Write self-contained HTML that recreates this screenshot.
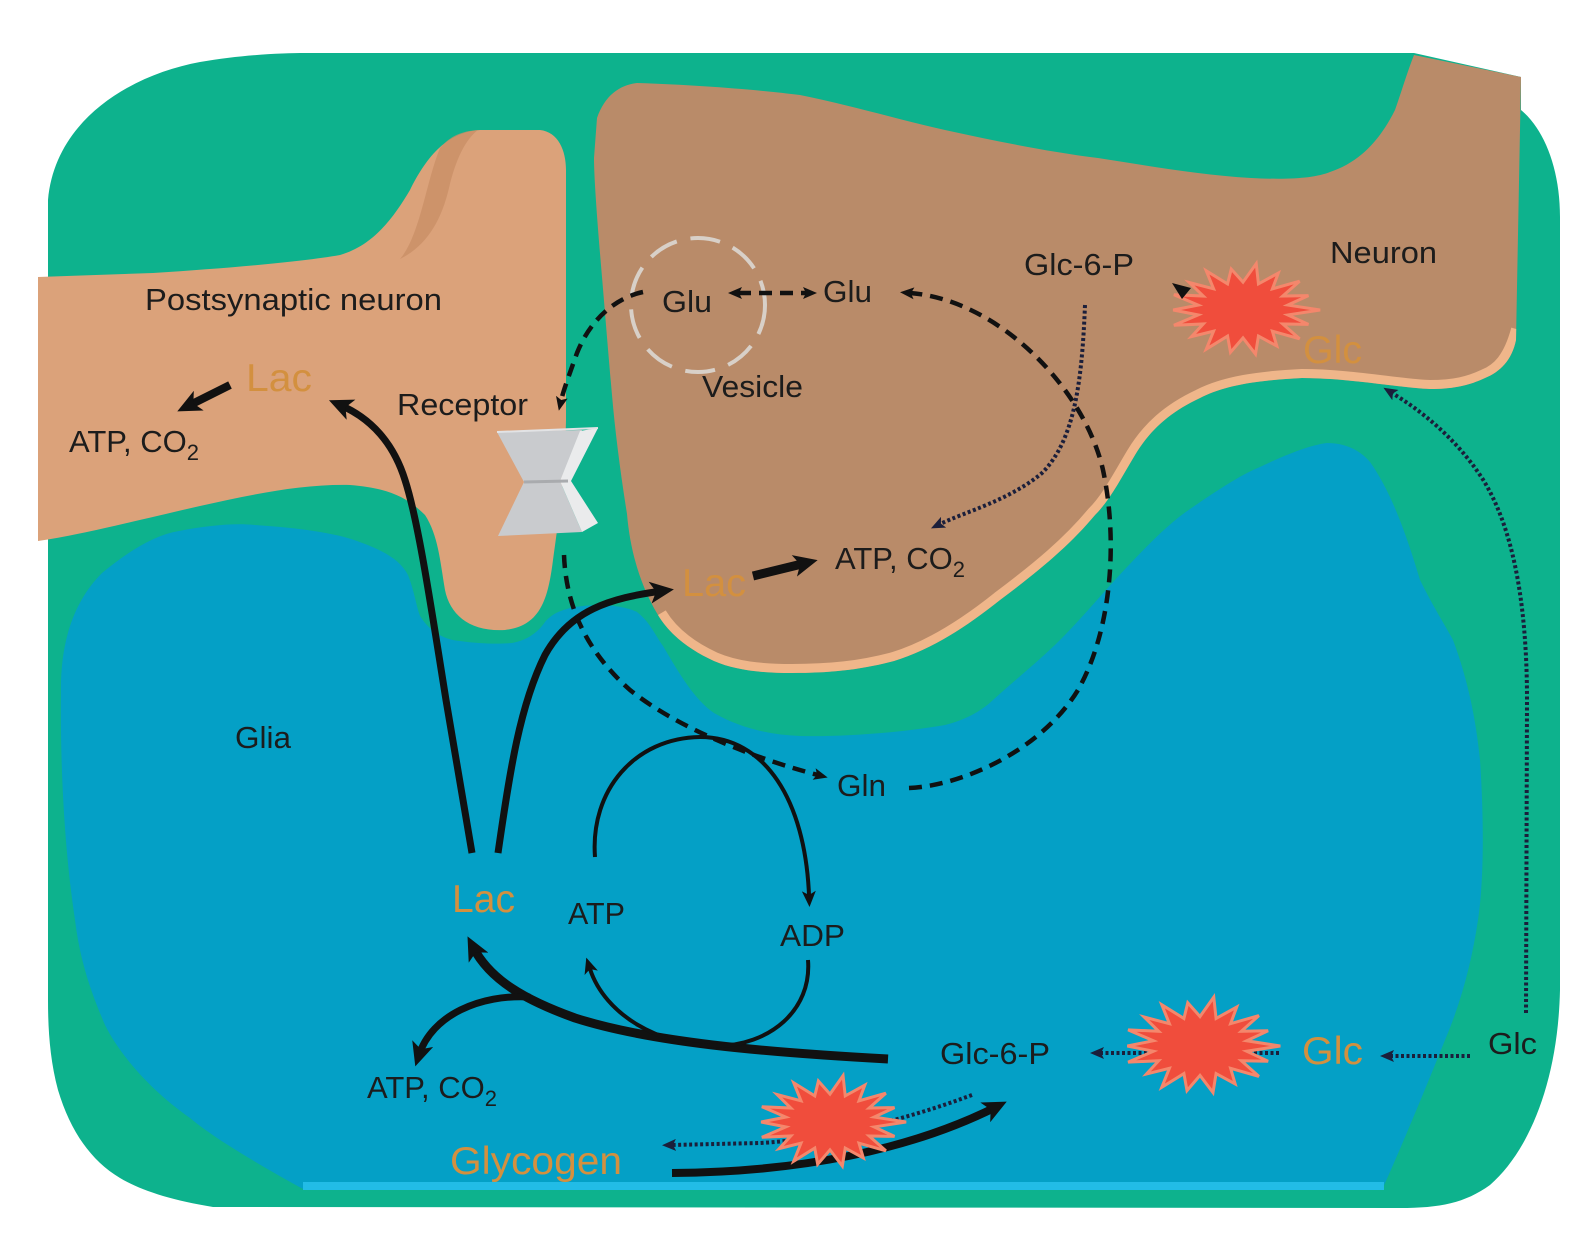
<!DOCTYPE html>
<html>
<head>
<meta charset="utf-8">
<style>
html,body{margin:0;padding:0;background:#ffffff;}
svg{display:block;}
text{font-family:"Liberation Sans",Arial,sans-serif;}
.k{fill:#1c1c1c;font-size:31px;}
.o{fill:#D3903F;font-size:39px;}
</style>
</head>
<body>
<svg width="1592" height="1234" viewBox="0 0 1592 1234" xmlns="http://www.w3.org/2000/svg">
<defs>
  <marker id="big" viewBox="0 0 24 22" markerWidth="24" markerHeight="22" refX="12" refY="11" markerUnits="userSpaceOnUse" orient="auto">
    <path d="M0,0 L24,11 L0,22 L6,11 Z" fill="#111"/>
  </marker>
  <marker id="med" viewBox="0 0 16 14" markerWidth="16" markerHeight="14" refX="4" refY="7" markerUnits="userSpaceOnUse" orient="auto">
    <path d="M0,0 L16,7 L0,14 L4,7 Z" fill="#111"/>
  </marker>
  <marker id="sm" viewBox="0 0 14 12" markerWidth="14" markerHeight="12" refX="4" refY="6" markerUnits="userSpaceOnUse" orient="auto-start-reverse">
    <path d="M0,0 L14,6 L0,12 L3,6 Z" fill="#111"/>
  </marker>
  <marker id="smd" viewBox="0 0 14 12" markerWidth="14" markerHeight="12" refX="4" refY="6" markerUnits="userSpaceOnUse" orient="auto">
    <path d="M0,0 L14,6 L0,12 L3,6 Z" fill="#1b1f3b"/>
  </marker>
  <clipPath id="preclip">
    <path id="prepath" d="M597 118 C605 95 620 85 637 83 C700 85 760 90 800 95 C850 105 900 120 945 130 C1000 142 1050 152 1098 158 C1150 166 1200 175 1251 178 C1290 180 1315 178 1330 172 C1360 162 1380 140 1395 110 C1402 90 1408 70 1414 55 L1521 77 L1516 340 C1512 360 1500 372 1485 378 C1470 385 1455 389 1430 389 C1400 388 1350 378 1302 378 C1260 380 1225 385 1200 398 C1170 412 1150 430 1135 455 C1120 480 1110 500 1095 515 C1070 545 1040 570 1000 600 C965 628 930 650 894 661 C860 670 830 673 792 673 C760 673 735 670 714 661 C690 650 670 635 658 615 C640 585 630 550 627 514 C620 470 615 430 612 395 C608 350 604 300 602 277 C598 230 594 180 594 158 Z"/>
  </clipPath>
</defs>

<!-- green background -->
<path d="M306 53 L1414 53 L1521 77 L1521 110 C1545 130 1560 170 1560 217 L1560 990 C1558 1080 1530 1150 1490 1185 C1465 1203 1440 1208 1400 1208 L213 1207 C170 1200 140 1190 120 1178 C90 1160 70 1130 58 1090 C50 1060 48 1030 48 1000 L48 200 C55 120 130 75 200 62 C240 55 280 53 306 53 Z" fill="#0DB28D"/>

<!-- glia -->
<path d="M61 693 C60 640 75 600 102 573 C130 550 155 535 179 531 C210 525 235 523 255 525 C300 528 335 533 357 541 C385 551 400 560 408 575 C414 590 416 605 420 616 C430 632 445 640 460 641 C480 644 500 644 512 643 C528 640 538 632 545 622 C552 614 560 610 575 607 C595 604 620 604 637 612 C650 622 655 635 663 646 C680 675 695 700 714 713 C740 728 770 735 800 736 C840 737 900 733 945 725 C965 720 980 712 993 700 C1015 680 1040 660 1060 640 C1085 615 1105 590 1127 567 C1150 543 1170 522 1193 507 C1215 492 1240 475 1260 467 C1285 455 1310 445 1327 443 C1345 443 1360 450 1370 462 C1390 490 1405 530 1420 580 C1435 610 1445 625 1453 640 C1468 680 1476 720 1480 760 C1484 820 1484 880 1478 920 C1472 960 1462 1000 1445 1040 C1425 1090 1400 1150 1382 1190 L305 1190 C250 1160 210 1135 190 1118 C150 1090 120 1055 105 1025 C90 990 80 960 75 920 C66 860 60 780 61 693 Z" fill="#04A0C6"/>
<path d="M303 1186 L1384 1186" stroke="#22BCE6" stroke-width="8"/>

<!-- postsynaptic neuron -->
<path d="M38 277 L153 273 C230 268 300 262 340 255 C375 245 395 215 410 190 C425 160 445 132 480 130 L540 130 C558 132 566 150 566 170 L566 420 C565 470 560 510 553 560 C548 600 540 626 505 630 C470 632 450 615 445 590 C440 560 438 535 425 515 C405 495 385 488 350 485 C300 484 250 495 200 506 C130 522 80 535 38 541 Z" fill="#DBA27A"/>
<path d="M440 148 C450 136 462 131 478 130 C466 139 456 158 449 188 C441 222 426 246 400 259 C420 236 426 182 440 148 Z" fill="#C88D66" opacity="0.75"/>

<!-- presynaptic neuron -->
<use href="#prepath" fill="#B98B69"/>
<g clip-path="url(#preclip)">
  <path d="M1520 330 C1512 360 1500 372 1485 378 C1470 385 1455 389 1430 389 C1400 388 1350 378 1302 378 C1260 380 1225 385 1200 398 C1170 412 1150 430 1135 455 C1120 480 1110 500 1095 515 C1070 545 1040 570 1000 600 C965 628 930 650 894 661 C860 670 830 673 792 673 C760 673 735 670 714 661 C690 650 670 635 658 615" fill="none" stroke="#EFB68A" stroke-width="18"/>
</g>

<!-- vesicle -->
<circle cx="698" cy="305" r="67" fill="none" stroke="#D8D0C8" stroke-width="4" stroke-dasharray="30 14"/>

<!-- receptor -->
<polygon points="497,432 582,430 560,481 582,532 498,536 524,482" fill="#C9CBCE"/>
<polygon points="580,431 598,428 571,481 598,523 582,532 560,481" fill="#EAEBEC"/>
<line x1="524" y1="482" x2="568" y2="481" stroke="#A9ABAE" stroke-width="3"/>
<line x1="497" y1="432" x2="598" y2="428" stroke="#E2E3E5" stroke-width="2"/>

<!-- thick glycogen arrow (behind star) -->
<path d="M672 1173 C800 1172 910 1150 996 1107" fill="none" stroke="#111" stroke-width="8" marker-end="url(#big)"/>

<!-- dotted arrows -->
<g fill="none" stroke="#1b1f3b" stroke-width="4" stroke-dasharray="3 2.5">
  <path d="M1085 305 C1082 380 1075 440 1042 473 C1010 500 965 512 940 524" marker-end="url(#smd)"/>
  <path d="M1526 1013 L1527 700 C1527 600 1512 525 1482 478 C1455 437 1420 410 1392 393" marker-end="url(#smd)"/>
  <path d="M1470 1056 L1390 1056" marker-end="url(#smd)"/>
  <path d="M1279 1053 L1100 1053" marker-end="url(#smd)"/>
  <path d="M972 1095 C900 1122 820 1140 760 1143 L672 1145" marker-end="url(#smd)"/>
</g>

<!-- stars -->
<g fill="#F04D3C" stroke="#F4876C" stroke-width="3">
  <polygon vector-effect="non-scaling-stroke" transform="translate(1243 310) scale(0.735 0.45)" points="105,0 61,11 89,32 54,31 77,64 40,47 46,80 21,58 17,98 0,62 -17,94 -21,58 -50,87 -40,47 -70,59 -54,31 -94,34 -61,11 -95,0 -61,-11 -94,-34 -54,-31 -73,-61 -40,-47 -50,-87 -21,-58 -16,-91 0,-62 18,-103 21,-58 48,-82 40,-47 77,-64 54,-31 89,-32 61,-11"/>
  <polygon vector-effect="non-scaling-stroke" transform="translate(1200 1046) scale(0.765 0.475)" points="105,0 61,11 89,32 54,31 77,64 40,47 46,80 21,58 17,98 0,62 -17,94 -21,58 -50,87 -40,47 -70,59 -54,31 -94,34 -61,11 -95,0 -61,-11 -94,-34 -54,-31 -73,-61 -40,-47 -50,-87 -21,-58 -16,-91 0,-62 18,-103 21,-58 48,-82 40,-47 77,-64 54,-31 89,-32 61,-11"/>
  <polygon vector-effect="non-scaling-stroke" transform="translate(830 1122) scale(0.725 0.45)" points="105,0 61,11 89,32 54,31 77,64 40,47 46,80 21,58 17,98 0,62 -17,94 -21,58 -50,87 -40,47 -70,59 -54,31 -94,34 -61,11 -95,0 -61,-11 -94,-34 -54,-31 -73,-61 -40,-47 -50,-87 -21,-58 -16,-91 0,-62 18,-103 21,-58 48,-82 40,-47 77,-64 54,-31 89,-32 61,-11"/>
</g>
<polygon points="1172,283 1191,288 1182,299" fill="#111"/>

<!-- thick arrows -->
<g fill="none" stroke="#111" stroke-linecap="butt">
  <path d="M230 385 L188 406" stroke-width="8" marker-end="url(#big)"/>
  <path d="M472 853 L446 700 C430 600 418 520 405 480 C395 448 375 420 340 405" stroke-width="7" marker-end="url(#big)"/>
  <path d="M498 853 C510 770 520 705 545 655 C570 610 610 598 662 591" stroke-width="7" marker-end="url(#big)"/>
  <path d="M753 576 L806 563" stroke-width="9" marker-end="url(#big)"/>
  <path d="M888 1059 C760 1052 650 1042 575 1018 C525 1000 490 980 473 947" stroke-width="9" marker-end="url(#big)"/>
  <path d="M530 997 C480 994 432 1015 419 1055" stroke-width="7" marker-end="url(#big)"/>
</g>

<!-- thin ATP/ADP loop -->
<g fill="none" stroke="#111" stroke-width="4">
  <path d="M595 857 C590 790 635 738 700 737 C765 737 805 800 809 895" marker-end="url(#med)"/>
  <path d="M808 960 C812 1010 770 1046 715 1046 C660 1046 605 1015 590 969" marker-end="url(#med)"/>
</g>

<!-- dashed arrows -->
<g fill="none" stroke="#111" stroke-width="4.5" stroke-dasharray="13 8">
  <path d="M738 293 L807 293" marker-start="url(#sm)" marker-end="url(#sm)"/>
  <path d="M643 292 C615 298 590 320 577 353 C568 378 563 392 561 401" marker-end="url(#sm)"/>
  <path d="M564 555 C566 605 585 650 630 690 C680 730 760 760 818 775" marker-end="url(#sm)"/>
  <path d="M909 788 C960 786 1040 752 1078 690 C1112 630 1118 540 1103 470 C1085 390 1000 300 910 293" marker-end="url(#sm)"/>
</g>

<!-- labels -->
<text class="k" x="145" y="310" textLength="297" lengthAdjust="spacingAndGlyphs">Postsynaptic neuron</text>
<text class="o" x="246" y="391" textLength="66" lengthAdjust="spacingAndGlyphs">Lac</text>
<text class="k" x="69" y="452">ATP, CO<tspan font-size="22" dy="8">2</tspan></text>
<text class="k" x="397" y="415" textLength="131" lengthAdjust="spacingAndGlyphs">Receptor</text>
<text class="k" x="662" y="312" textLength="50" lengthAdjust="spacingAndGlyphs">Glu</text>
<text class="k" x="823" y="302" textLength="49" lengthAdjust="spacingAndGlyphs">Glu</text>
<text class="k" x="702" y="397" textLength="101" lengthAdjust="spacingAndGlyphs">Vesicle</text>
<text class="k" x="1024" y="275" textLength="110" lengthAdjust="spacingAndGlyphs">Glc-6-P</text>
<text class="k" x="1330" y="263" textLength="107" lengthAdjust="spacingAndGlyphs">Neuron</text>
<text class="o" x="1303" y="363" textLength="59" lengthAdjust="spacingAndGlyphs">Glc</text>
<text class="o" x="682" y="596" textLength="64" lengthAdjust="spacingAndGlyphs">Lac</text>
<text class="k" x="835" y="569">ATP, CO<tspan font-size="22" dy="8">2</tspan></text>
<text class="k" x="235" y="748" textLength="56" lengthAdjust="spacingAndGlyphs">Glia</text>
<text class="k" x="837" y="796" textLength="49" lengthAdjust="spacingAndGlyphs">Gln</text>
<text class="o" x="452" y="912" textLength="63" lengthAdjust="spacingAndGlyphs">Lac</text>
<text class="k" x="568" y="924" textLength="57" lengthAdjust="spacingAndGlyphs">ATP</text>
<text class="k" x="780" y="946" textLength="65" lengthAdjust="spacingAndGlyphs">ADP</text>
<text class="k" x="367" y="1098">ATP, CO<tspan font-size="22" dy="8">2</tspan></text>
<text class="k" x="940" y="1064" textLength="110" lengthAdjust="spacingAndGlyphs">Glc-6-P</text>
<text class="o" x="1302" y="1064" textLength="61" lengthAdjust="spacingAndGlyphs">Glc</text>
<text class="k" x="1488" y="1054" textLength="49" lengthAdjust="spacingAndGlyphs">Glc</text>
<text class="o" x="450" y="1174" textLength="172" lengthAdjust="spacingAndGlyphs">Glycogen</text>
</svg>
</body>
</html>
